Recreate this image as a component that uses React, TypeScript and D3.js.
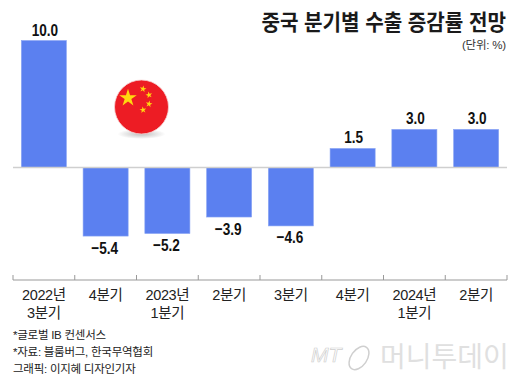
import React from "react";
import * as d3 from "d3";

const categories = ["2022년|3분기", "4분기", "2023년|1분기", "2분기", "3분기", "4분기 ", "2024년|1분기", "2분기 "];
const values = [10.0, -5.4, -5.2, -3.9, -4.6, 1.5, 3.0, 3.0];
const valueLabels = ["10.0", "−5.4", "−5.2", "−3.9", "−4.6", "1.5", "3.0", "3.0"];
const title = "중국 분기별 수출 증감률 전망";
const unit = "(단위: %)";
const notes = ["*글로벌 IB 컨센서스", "*자료: 블룸버그, 한국무역협회", "그래픽: 이지혜 디자인기자"];
const smallStars = [
  [143, 89, 10],
  [149, 95, -12],
  [149, 104, 10],
  [143, 110, -8],
];

const KR = "'Liberation Sans', 'Noto Sans CJK KR', sans-serif";
const NUM = "'Liberation Sans', Arial, sans-serif";

export default function App() {
  const x = d3.scaleBand<string>().domain(categories).range([13, 507]).paddingInner(0.27).paddingOuter(0.135);
  const y = d3.scaleLinear().domain([0, 10]).range([167.5, 40.5]);
  const star = d3.symbol().type(d3.symbolStar);
  const step = x.step();
  const ticks = d3.range(categories.length + 1).map((i) => 13 + i * step);

  return (
    <svg width={520} height={381} style={{ position: "absolute", left: 0, top: 0, background: "#fff" }}>
      <defs>
        <radialGradient id="shadow">
          <stop offset="0%" stopColor="#888" stopOpacity={0.55} />
          <stop offset="100%" stopColor="#888" stopOpacity={0} />
        </radialGradient>
      </defs>
      <text transform="translate(506,29.5) scale(0.915,1)" textAnchor="end" fontFamily={KR} fontWeight={700} fontSize={22} fill="#1a1a1a">{title}</text>
      <text x={506} y={49} textAnchor="end" fontFamily={KR} fontSize={11.5} fill="#333" letterSpacing={-0.2}>{unit}</text>

      {values.map((v, i) => {
        const c = categories[i];
        const top = Math.min(y(v), y(0));
        const h = Math.abs(y(v) - y(0));
        const lx = x(c)! + x.bandwidth() / 2 + (v < 0 ? -1 : 1);
        const ly = v >= 0 ? top - 5 : top + h + 17.5;
        return (
          <g key={c}>
            <rect x={x(c)} y={top} width={x.bandwidth()} height={h} fill="#5b80f0" stroke="#8aa5f3" strokeWidth={0.6} />
            <text
              transform={`translate(${lx},${ly}) scale(0.8,1)`}
              textAnchor="middle"
              fontFamily={NUM}
              fontWeight={700}
              fontSize={17}
              fill="#111"
            >
              {valueLabels[i]}
            </text>
          </g>
        );
      })}
      <line x1={13} x2={507} y1={167.5} y2={167.5} stroke="#cfcfcf" strokeWidth={1.5} />

      <ellipse cx={141.5} cy={134} rx={24} ry={5} fill="url(#shadow)" />
      <circle cx={141.5} cy={107} r={27} fill="#ed1c24" stroke="#f6d5d5" strokeWidth={0.8} />
      <path d={star.size(95)()!} transform="translate(128,98)" fill="#ffd90f" />
      {smallStars.map(([sx, sy, r]) => (
        <path key={sx + "-" + sy} d={star.size(14)()!} transform={`translate(${sx},${sy}) rotate(${r})`} fill="#ffd90f" />
      ))}

      <path d={`M13,280H507`} stroke="#999" strokeWidth={1} fill="none" />
      {ticks.map((t) => (
        <line key={t} x1={t} x2={t} y1={275} y2={280} stroke="#999" strokeWidth={1} />
      ))}
      {categories.map((c) => {
        const lines = c.trim().split("|");
        const cx = x(c)! + x.bandwidth() / 2;
        return (
          <text key={c} textAnchor="middle" fontFamily={KR} fontSize={14.5} fill="#222" letterSpacing={-0.4}>
            {lines.map((l, i) => (
              <tspan key={l} x={cx} y={299.5 + i * 18}>{l}</tspan>
            ))}
          </text>
        );
      })}

      {notes.map((n, i) => (
        <text key={n} x={13} y={339 + i * 17} fontFamily={KR} fontSize={11.5} fill="#222" letterSpacing={-0.25}>{n}</text>
      ))}

      <g fontFamily={NUM}>
        <text x={311} y={362} fontSize={21} fontStyle="italic" fill="none" stroke="#cfcfcf" strokeWidth={0.7}>MT</text>
        <ellipse cx={359} cy={358} rx={8} ry={13} transform="rotate(35 359 358)" fill="none" stroke="#cfcfcf" strokeWidth={1.5} />
        <text transform="translate(380,367)" fontFamily={KR} fontSize={28} fill="#e0e0e0">머니투데이</text>
      </g>
    </svg>
  );
}
